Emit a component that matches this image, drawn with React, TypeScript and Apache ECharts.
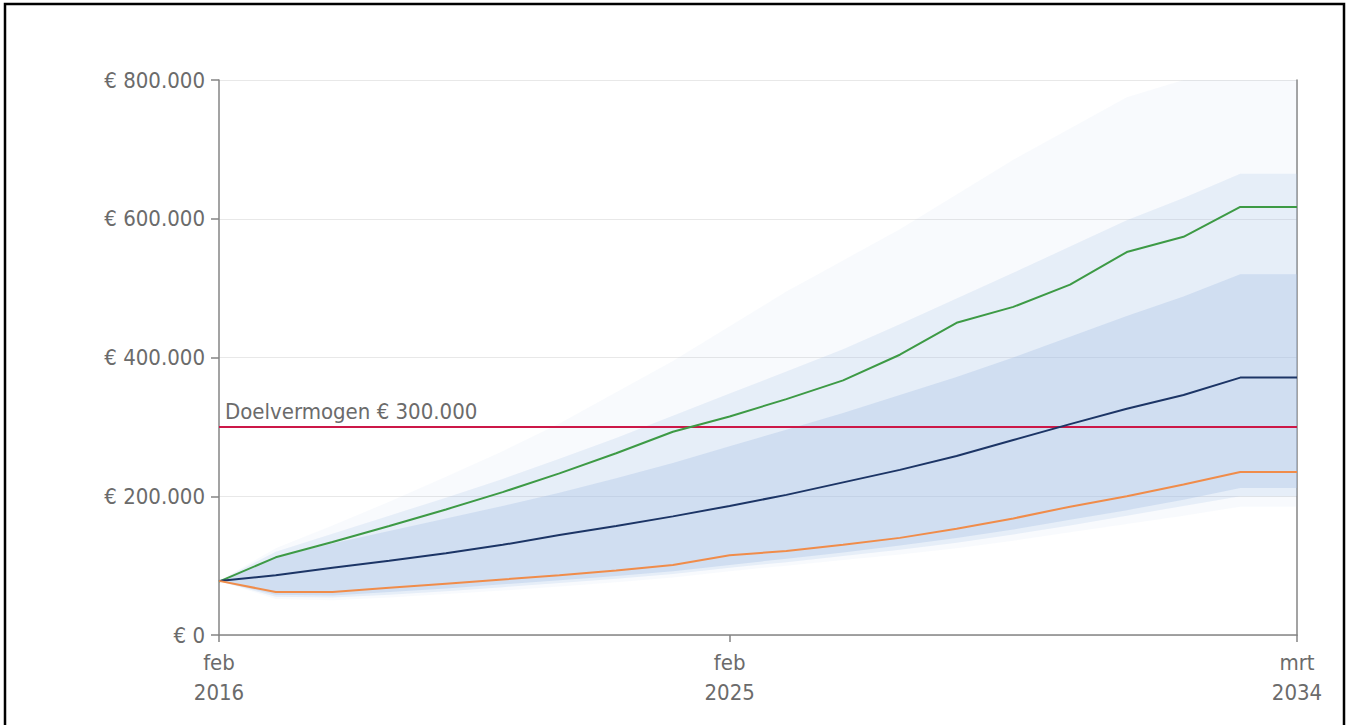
import React, { useEffect, useRef } from "react";
import * as echarts from "echarts";

const categories = [
  "feb 2016", "feb 2017", "feb 2018", "feb 2019", "feb 2020", "feb 2021", "feb 2022",
  "feb 2023", "feb 2024", "feb 2025", "feb 2026", "feb 2027", "feb 2028", "feb 2029",
  "feb 2030", "feb 2031", "feb 2032", "feb 2033", "feb 2034", "mrt 2034",
];
const labelIndices = [0, 9, 19];

const optimistic = [77000, 112000, 134000, 157000, 181000, 206000, 233000, 262000, 293000, 315000, 340000, 367000, 404000, 450000, 473000, 505000, 552000, 574000, 617000, 617000];
const expected = [78000, 86000, 97000, 107000, 118000, 130000, 144000, 157000, 171000, 186000, 202000, 220000, 238000, 258000, 281000, 304000, 326000, 346000, 371000, 371000];
const pessimistic = [78000, 62000, 62000, 68000, 74000, 80000, 86000, 93000, 101000, 115000, 121000, 130000, 140000, 153000, 168000, 185000, 200000, 217000, 235000, 235000];

const outerLow = [78000, 52000, 50000, 54000, 59000, 64000, 70000, 76000, 83000, 92000, 100000, 108000, 116000, 125000, 136000, 148000, 160000, 172000, 185000, 185000];
const outerHigh = [78000, 125000, 158000, 192000, 228000, 265000, 305000, 350000, 395000, 445000, 495000, 540000, 585000, 635000, 685000, 730000, 775000, 800000, 800000, 800000];
const midLow = [78000, 55000, 54000, 58000, 63000, 69000, 75000, 81000, 88000, 97000, 105000, 114000, 123000, 133000, 145000, 158000, 172000, 186000, 200000, 200000];
const midHigh = [78000, 120000, 146000, 172000, 198000, 225000, 254000, 284000, 316000, 348000, 380000, 412000, 448000, 485000, 522000, 560000, 598000, 630000, 665000, 665000];
const denseLow = [78000, 58000, 57000, 62000, 67000, 73000, 79000, 85000, 92000, 101000, 110000, 119000, 129000, 140000, 152000, 166000, 180000, 195000, 212000, 212000];
const denseHigh = [78000, 112000, 132000, 150000, 168000, 186000, 205000, 226000, 248000, 272000, 296000, 320000, 346000, 372000, 400000, 430000, 460000, 488000, 520000, 520000];

const targetValue = 300000;
const targetLabel = "Doelvermogen € 300.000";
const yTicks = [0, 200000, 400000, 600000, 800000];

const FONT = "'Liberation Sans Narrow', 'DejaVu Sans Condensed', 'Arial Narrow', sans-serif";
const TEXT = "#6b6b6b";
const AXIS = "#858585";

function fmtEuro(v: number): string {
  const s = Math.round(v).toString().replace(/\B(?=(\d{3})+(?!\d))/g, ".");
  return "€ " + s;
}

function band(name: string, low: number[], high: number[], alpha: number, z: number) {
  return [
    {
      name: name + "-base",
      type: "line",
      stack: name,
      data: low,
      symbol: "none",
      lineStyle: { opacity: 0 },
      silent: true,
      z,
    },
    {
      name: name + "-band",
      type: "line",
      stack: name,
      data: high.map((h, i) => h - low[i]),
      symbol: "none",
      lineStyle: { opacity: 0 },
      areaStyle: { color: `rgba(165,192,230,${alpha})` },
      silent: true,
      z,
    },
  ];
}

export default function App() {
  const ref = useRef<HTMLDivElement>(null);
  useEffect(() => {
    if (!ref.current) return;
    const chart = echarts.init(ref.current, null, { renderer: "svg" });
    chart.setOption({
      animation: false,
      backgroundColor: "#ffffff",
      grid: { left: 219, right: 51, top: 80, bottom: 90, containLabel: false },
      graphic: [
        {
          type: "rect",
          shape: { x: 5, y: 4, width: 1339, height: 760 },
          style: { fill: "none", stroke: "#000", lineWidth: 2.5 },
          z: 100,
        },
      ],
      xAxis: {
        type: "category",
        data: categories,
        boundaryGap: false,
        axisLine: { lineStyle: { color: AXIS, width: 1.5 } },
        axisTick: {
          show: true,
          length: 7,
          interval: (i: number) => labelIndices.includes(i),
          lineStyle: { color: AXIS, width: 1.5 },
        },
        axisLabel: {
          interval: (i: number) => labelIndices.includes(i),
          formatter: (v: string) => v.replace(" ", "\n"),
          color: TEXT,
          fontFamily: FONT,
          fontSize: 22,
          lineHeight: 30,
          margin: 12,
        },
        splitLine: { show: false },
      },
      yAxis: [
        {
          type: "value",
          min: yTicks[0],
          max: yTicks[yTicks.length - 1],
          interval: yTicks[1] - yTicks[0],
          axisLine: { show: true, lineStyle: { color: AXIS, width: 1.5 } },
          axisTick: { show: true, length: 8, lineStyle: { color: AXIS, width: 1.5 } },
          axisLabel: {
            formatter: (v: number) => fmtEuro(v),
            color: TEXT,
            fontFamily: FONT,
            fontSize: 22,
            margin: 14,
          },
          splitLine: { show: true, lineStyle: { color: "#e8e8e8", width: 1 } },
        },
        {
          type: "value",
          position: "right",
          min: yTicks[0],
          max: yTicks[yTicks.length - 1],
          interval: yTicks[1] - yTicks[0],
          axisLine: { show: true, lineStyle: { color: AXIS, width: 1.5 } },
          axisTick: { show: false },
          axisLabel: { show: false },
          splitLine: { show: false },
        },
      ],
      series: [
        ...band("outer", outerLow, outerHigh, 0.12, 1),
        ...band("mid", midLow, midHigh, 0.3, 2),
        ...band("dense", denseLow, denseHigh, 0.5, 3),
        {
          name: "target",
          type: "line",
          data: [],
          markLine: {
            silent: true,
            symbol: "none",
            lineStyle: { color: "#cc1848", width: 2, type: "solid" },
            label: {
              show: true,
              position: "insideStartTop",
              formatter: targetLabel,
              color: TEXT,
              fontFamily: FONT,
              fontSize: 22,
              distance: [6, 4],
            },
            data: [{ yAxis: targetValue }],
          },
          z: 5,
        },
        {
          name: "optimistisch",
          type: "line",
          data: optimistic,
          symbol: "none",
          lineStyle: { color: "#3d9a45", width: 2 },
          z: 6,
        },
        {
          name: "verwacht",
          type: "line",
          data: expected,
          symbol: "none",
          lineStyle: { color: "#1c3566", width: 2 },
          z: 6,
        },
        {
          name: "pessimistisch",
          type: "line",
          data: pessimistic,
          symbol: "none",
          lineStyle: { color: "#f08c4a", width: 2 },
          z: 6,
        },
      ],
    });
    return () => chart.dispose();
  }, []);
  return (
    <div
      ref={ref}
      style={{ position: "fixed", left: 0, top: 0, width: 1348, height: 725 }}
    />
  );
}
